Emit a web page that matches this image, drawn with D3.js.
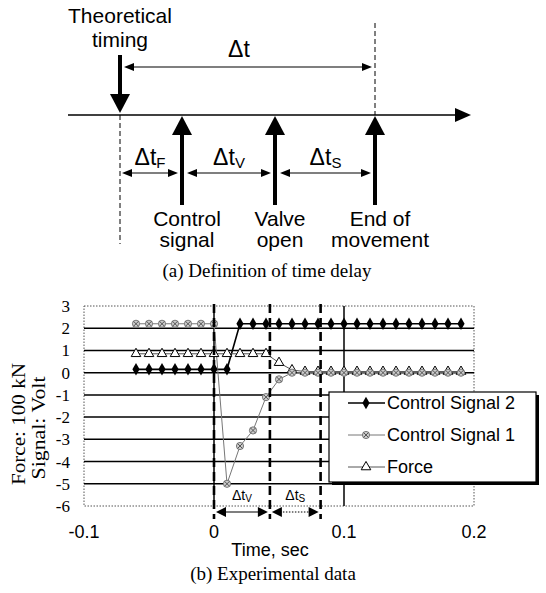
<!DOCTYPE html>
<html>
<head>
    <meta charset="utf-8" />
    <title>Definition of time delay and experimental data</title>
    <script src="https://cdn.jsdelivr.net/npm/d3@7/dist/d3.min.js"></script>
    <style>
        body { margin: 0; background: #fff; }
        .sans { font-family: "Liberation Sans", Arial, sans-serif; }
        .serif { font-family: "Liberation Serif", "Times New Roman", serif; }
    </style>
</head>
<body>
<script>
    // ---- (a) schematic: events along the time axis ----
    var eventLines = [['Theoretical', 'timing'], ['Control', 'signal'], ['Valve', 'open'], ['End of', 'movement']];
    var eventPos = [0, 62, 155, 255];
    var delaySubs = ['F', 'V', 'S'];

    // ---- (b) experimental traces ----
    var times = [-0.06, -0.05, -0.04, -0.03, -0.02, -0.01, 0.00, 0.01, 0.02, 0.03, 0.04, 0.05, 0.06,
                 0.07, 0.08, 0.09, 0.10, 0.11, 0.12, 0.13, 0.14, 0.15, 0.16, 0.17, 0.18, 0.19];
    var signal2 = [0.15, 0.15, 0.15, 0.15, 0.15, 0.15, 0.15, 0.15, 2.2, 2.2, 2.2, 2.2, 2.2,
                   2.2, 2.2, 2.2, 2.2, 2.2, 2.2, 2.2, 2.2, 2.2, 2.2, 2.2, 2.2, 2.2];
    var signal1 = [2.2, 2.2, 2.2, 2.2, 2.2, 2.2, 2.2, -5.0, -3.3, -2.6, -1.1, -0.3, 0.0,
                   0.0, 0.0, 0.0, 0.0, 0.0, 0.0, 0.0, 0.0, 0.0, 0.0, 0.0, 0.0, 0.0];
    var force = [0.85, 0.85, 0.85, 0.85, 0.85, 0.85, 0.85, 0.85, 0.85, 0.85, 0.85, 0.45, 0.12,
                 0.05, 0.05, 0.05, 0.05, 0.05, 0.05, 0.05, 0.05, 0.05, 0.05, 0.05, 0.05, 0.05];
    var seriesNames = ['Control Signal 2', 'Control Signal 1', 'Force'];
    var yTicks = [3, 2, 1, 0, -1, -2, -3, -4, -5, -6];
    var xTicks = [-0.1, 0, 0.1, 0.2];
    var delayMarks = [0, 0.043, 0.082];
    var delayMarkSubs = ['V', 'S'];

    var svg = d3.select('body').append('svg')
        .attr('width', 546)
        .attr('height', 593);

    // arrowhead helper: tip at (tx, ty), pointing along angle (deg)
    function head(g, tx, ty, angle, len, half) {
        g.append('path')
            .attr('d', 'M0,0L' + (-len) + ',' + (-half) + 'L' + (-len) + ',' + half + 'Z')
            .attr('transform', 'translate(' + tx + ',' + ty + ') rotate(' + angle + ')')
            .attr('fill', '#000');
    }

    // ================= (a) =================
    var diag = svg.append('g');
    var ex = d3.scaleLinear().domain([0, 255]).range([120, 375]);
    var axisY = 115;

    // time axis
    diag.append('line').attr('x1', 68).attr('x2', 458).attr('y1', axisY).attr('y2', axisY)
        .attr('stroke', '#000').attr('stroke-width', 1.5);
    head(diag, 471, axisY, 0, 16, 7);

    // dashed guides
    diag.append('line').attr('x1', ex(0)).attr('x2', ex(0)).attr('y1', axisY).attr('y2', 244)
        .attr('stroke', '#000').attr('stroke-dasharray', '5,3');
    diag.append('line').attr('x1', ex(255)).attr('x2', ex(255)).attr('y1', 23).attr('y2', axisY)
        .attr('stroke', '#000').attr('stroke-dasharray', '5,3');

    // theoretical timing arrow (down)
    diag.append('line').attr('x1', ex(0)).attr('x2', ex(0)).attr('y1', 55).attr('y2', 98)
        .attr('stroke', '#000').attr('stroke-width', 4);
    head(diag, ex(0), 113, 90, 19, 10);

    // upward arrows
    eventPos.slice(1).forEach(function(p) {
        diag.append('line').attr('x1', ex(p)).attr('x2', ex(p)).attr('y1', 205).attr('y2', 132)
            .attr('stroke', '#000').attr('stroke-width', 4);
        head(diag, ex(p), 116, -90, 19, 10);
    });

    // event labels
    eventLines.forEach(function(lines, i) {
        var cx = ex(eventPos[i]) + (i === 0 ? 0 : 5);
        var y0 = i === 0 ? 23 : 226;
        lines.forEach(function(s, j) {
            diag.append('text').attr('class', 'sans')
                .attr('x', cx).attr('y', y0 + j * (i === 0 ? 24 : 21))
                .attr('text-anchor', 'middle').style('font-size', '21px')
                .text(s);
        });
    });

    // total delay arrow
    diag.append('line').attr('x1', ex(0) + 10).attr('x2', ex(255) - 10).attr('y1', 67).attr('y2', 67)
        .attr('stroke', '#000').attr('stroke-width', 1.2);
    head(diag, ex(0) + 4, 67, 180, 10, 4);
    head(diag, ex(255) - 3, 67, 0, 10, 4);
    diag.append('text').attr('class', 'sans')
        .attr('x', 239).attr('y', 57)
        .attr('text-anchor', 'middle').style('font-size', '23px')
        .text('\u0394t');

    // partial delay arrows
    delaySubs.forEach(function(s, i) {
        var a = ex(eventPos[i]) + (i === 0 ? 2 : 5), b = ex(eventPos[i + 1]) - 4;
        diag.append('line').attr('x1', a + 8).attr('x2', b - 8).attr('y1', 173).attr('y2', 173)
            .attr('stroke', '#000').attr('stroke-width', 1.2);
        head(diag, a, 173, 180, 10, 4);
        head(diag, b, 173, 0, 10, 4);
        var t = diag.append('text').attr('class', 'sans')
            .attr('x', (a + b) / 2).attr('y', 165)
            .attr('text-anchor', 'middle').style('font-size', '23px');
        t.append('tspan').text('\u0394t');
        t.append('tspan').attr('dy', 3).style('font-size', '15px').text(s);
    });

    diag.append('text').attr('class', 'serif')
        .attr('x', 267).attr('y', 277)
        .attr('text-anchor', 'middle').style('font-size', '19px')
        .text('(a) Definition of time delay');

    // ================= (b) =================
    var x = d3.scaleLinear().domain([-0.1, 0.2]).range([84, 474]);
    var y = d3.scaleLinear().domain([-6, 3]).range([506, 306]);
    var plot = svg.append('g');

    // frame (dotted)
    plot.append('rect').attr('x', x(-0.1)).attr('y', y(3))
        .attr('width', x(0.2) - x(-0.1)).attr('height', y(-6) - y(3))
        .attr('fill', 'none').attr('stroke', '#555').attr('stroke-dasharray', '1.5,1.5');

    // horizontal grid
    plot.selectAll('.hgrid').data(yTicks.filter(function(d) { return d < 3 && d > -6; }))
        .enter().append('line')
        .attr('x1', x(-0.1)).attr('x2', x(0.2))
        .attr('y1', function(d) { return y(d); }).attr('y2', function(d) { return y(d); })
        .attr('stroke', '#000').attr('stroke-width', 1.5);

    // vertical grid
    plot.selectAll('.vgrid').data(xTicks.filter(function(d) { return d > -0.1 && d < 0.2; }))
        .enter().append('line')
        .attr('x1', function(d) { return x(d); }).attr('x2', function(d) { return x(d); })
        .attr('y1', y(3)).attr('y2', y(-6))
        .attr('stroke', '#000').attr('stroke-width', 1.5);

    // tick labels
    plot.selectAll('.ylab').data(yTicks).enter().append('text')
        .attr('class', 'serif')
        .attr('x', 70).attr('y', function(d) { return y(d); }).attr('dy', '0.35em')
        .attr('text-anchor', 'end').style('font-size', '17px')
        .text(function(d) { return d; });
    plot.selectAll('.xlab').data(xTicks).enter().append('text')
        .attr('class', 'sans')
        .attr('x', function(d) { return x(d); }).attr('y', 538)
        .attr('text-anchor', 'middle').style('font-size', '18px')
        .text(function(d) { return d; });

    plot.append('text').attr('class', 'sans')
        .attr('x', 270).attr('y', 556).attr('text-anchor', 'middle').style('font-size', '18px')
        .text('Time, sec');
    plot.append('text').attr('class', 'serif')
        .attr('transform', 'translate(25,424) rotate(-90)')
        .attr('text-anchor', 'middle').style('font-size', '19px')
        .attr('textLength', 122).attr('lengthAdjust', 'spacingAndGlyphs')
        .text('Force: 100 kN');
    plot.append('text').attr('class', 'serif')
        .attr('transform', 'translate(45,428) rotate(-90)')
        .attr('text-anchor', 'middle').style('font-size', '19px')
        .attr('textLength', 103).attr('lengthAdjust', 'spacingAndGlyphs')
        .text('Signal: Volt');
    plot.append('text').attr('class', 'serif')
        .attr('x', 273).attr('y', 580).attr('text-anchor', 'middle').style('font-size', '19px')
        .text('(b) Experimental data');

    // series
    var series = [signal2, signal1, force].map(function(vals, i) {
        return { name: seriesNames[i], pts: times.map(function(t, k) { return [t, vals[k]]; }) };
    });
    var lineGen = d3.line().x(function(d) { return x(d[0]); }).y(function(d) { return y(d[1]); });
    var lineStyle = [
        { stroke: '#000', width: 1.6 },
        { stroke: '#777', width: 1 },
        { stroke: '#555', width: 1 }
    ];

    function drawMarker(g, i) {
        if (i === 0) {
            g.append('path').attr('d', d3.symbol().type(d3.symbolDiamond).size(45)())
                .attr('fill', '#000');
        } else if (i === 1) {
            g.append('circle').attr('r', 3.6).attr('fill', '#ccc').attr('stroke', '#777').attr('stroke-width', 1);
            g.append('path').attr('d', 'M-2.5,-2.5L2.5,2.5M-2.5,2.5L2.5,-2.5')
                .attr('stroke', '#555').attr('stroke-width', 1);
        } else {
            g.append('path').attr('d', d3.symbol().type(d3.symbolTriangle).size(40)())
                .attr('fill', '#fff').attr('stroke', '#000').attr('stroke-width', 1);
        }
    }

    series.forEach(function(s, i) {
        plot.append('path').datum(s.pts)
            .attr('d', lineGen).attr('fill', 'none')
            .attr('stroke', lineStyle[i].stroke).attr('stroke-width', lineStyle[i].width);
    });
    [2, 1, 0].forEach(function(i) {
        series[i].pts.forEach(function(p) {
            var g = plot.append('g').attr('transform', 'translate(' + x(p[0]) + ',' + y(p[1]) + ')');
            drawMarker(g, i);
        });
    });

    // delay markers (dashed) and arrows
    plot.selectAll('.dmark').data(delayMarks).enter().append('line')
        .attr('x1', function(d) { return x(d); }).attr('x2', function(d) { return x(d); })
        .attr('y1', y(3) - 2).attr('y2', 519)
        .attr('stroke', '#000').attr('stroke-width', 2.6).attr('stroke-dasharray', '9,5');

    delayMarkSubs.forEach(function(s, i) {
        var a = x(delayMarks[i]) + 2, b = x(delayMarks[i + 1]) - 2;
        plot.append('line').attr('x1', a + 8).attr('x2', b - 8).attr('y1', 512).attr('y2', 512)
            .attr('stroke', '#000').attr('stroke-width', 1.2)
            .attr('stroke-dasharray', i === 1 ? '1.5,1.5' : null);
        head(plot, a, 512, 180, 10, 5);
        head(plot, b, 512, 0, 10, 5);
        var t = plot.append('text').attr('class', 'sans')
            .attr('x', (a + b) / 2).attr('y', 500)
            .attr('text-anchor', 'middle').style('font-size', '14px');
        t.append('tspan').text('\u0394t');
        t.append('tspan').attr('dy', 2).style('font-size', '10px').text(s);
    });

    // legend
    var lg = svg.append('g').attr('transform', 'translate(329,392)');
    lg.append('rect').attr('x', 3).attr('y', 3).attr('width', 207).attr('height', 90).attr('fill', '#000');
    lg.append('rect').attr('width', 207).attr('height', 90)
        .attr('fill', '#fff').attr('stroke', '#000').attr('stroke-width', 1.2);
    seriesNames.forEach(function(name, i) {
        var ly = 11 + i * 32;
        lg.append('line').attr('x1', 19).attr('x2', 56).attr('y1', ly).attr('y2', ly)
            .attr('stroke', lineStyle[i].stroke).attr('stroke-width', lineStyle[i].width);
        drawMarker(lg.append('g').attr('transform', 'translate(37,' + ly + ')'), i);
        lg.append('text').attr('class', 'sans')
            .attr('x', 58).attr('y', ly + 6).style('font-size', '18px')
            .text(name);
    });
</script>
</body>
</html>
